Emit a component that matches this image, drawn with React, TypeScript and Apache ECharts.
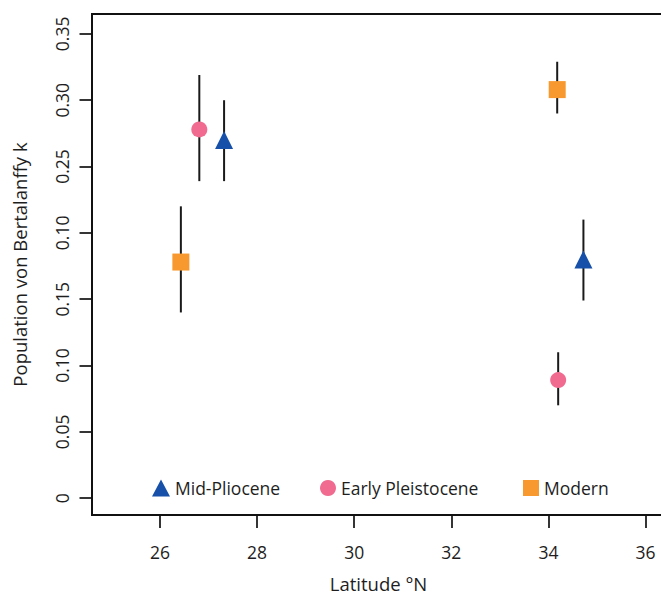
import React, { useEffect, useRef } from "react";
import * as echarts from "echarts";

const seriesNames = ["Mid-Pliocene", "Early Pleistocene", "Modern"];
const seriesColors = ["#1650a8", "#f06b8f", "#f8992f"];
const seriesSymbols = ["triangle", "circle", "rect"];
const seriesSizes = [[18, 18], 16, 17];

const midPliLat = [27.32, 34.72];
const midPliK = [0.27, 0.18];
const midPliLo = [0.239, 0.149];
const midPliHi = [0.3, 0.21];

const earlyPleiLat = [26.81, 34.2];
const earlyPleiK = [0.278, 0.089];
const earlyPleiLo = [0.239, 0.07];
const earlyPleiHi = [0.319, 0.11];

const modernLat = [26.43, 34.18];
const modernK = [0.178, 0.308];
const modernLo = [0.14, 0.29];
const modernHi = [0.22, 0.329];

const xTicks = [26, 28, 30, 32, 34, 36];
const yTicks = [0, 0.05, 0.1, 0.15, 0.2, 0.25, 0.3, 0.35];
const yTickLabels = ["0", "0.05", "0.10", "0.15", "0.10", "0.25", "0.30", "0.35"];

const FONT = "Open Sans";
const TEXT = "#1e1e1e";

export default function App() {
  const ref = useRef<HTMLDivElement>(null);
  useEffect(() => {
    const chart = echarts.init(ref.current!, null, { renderer: "svg" });
    const lats = [midPliLat, earlyPleiLat, modernLat];
    const ks = [midPliK, earlyPleiK, modernK];
    const los = [midPliLo, earlyPleiLo, modernLo];
    const his = [midPliHi, earlyPleiHi, modernHi];

    const errData: number[][] = [];
    lats.forEach((la, s) => la.forEach((x, i) => errData.push([x, los[s][i], his[s][i]])));

    const scatterSeries = seriesNames.map((name, s) => ({
      type: "scatter",
      name,
      symbol: seriesSymbols[s],
      symbolSize: seriesSizes[s],
      itemStyle: { color: seriesColors[s], opacity: 1 },
      z: 3,
      data: lats[s].map((x, i) => [x, ks[s][i]]),
    }));

    const legendLefts = [152, 320, 523];
    const legends = seriesNames.map((name, s) => ({
      data: [{ name, icon: seriesSymbols[s] }],
      left: legendLefts[s],
      top: 479,
      padding: 0,
      itemWidth: s === 0 ? 18 : 16,
      itemHeight: s === 0 ? 17 : 16,
      itemGap: 0,
      textStyle: { fontFamily: FONT, fontSize: 17.5, color: TEXT },
      selectedMode: false,
    }));

    chart.setOption({
      animation: false,
      backgroundColor: "#fff",
      textStyle: { fontFamily: FONT },
      legend: legends,
      grid: {
        left: 92,
        top: 14,
        width: 573,
        height: 506,
        show: true,
        borderColor: "#111",
        borderWidth: 2,
        containLabel: false,
      },
      xAxis: {
        type: "value",
        min: 24.6,
        max: 36.4,
        name: "Latitude °N",
        nameLocation: "middle",
        nameGap: 59,
        nameTextStyle: { fontFamily: FONT, fontSize: 18.5, color: TEXT },
        axisLine: { show: false, onZero: false },
        splitLine: { show: false },
        axisTick: { show: true, length: 13, customValues: xTicks, lineStyle: { color: "#111", width: 1.7 } },
        axisLabel: {
          customValues: xTicks,
          margin: 28,
          fontFamily: FONT,
          fontSize: 17.5,
          color: TEXT,
        },
      },
      yAxis: {
        type: "value",
        min: -0.0127,
        max: 0.365,
        name: "Population von Bertalanffy k",
        nameLocation: "middle",
        nameRotate: 90,
        nameGap: 63,
        nameTextStyle: { fontFamily: FONT, fontSize: 18.5, color: TEXT },
        axisLine: { show: false, onZero: false },
        splitLine: { show: false },
        axisTick: { show: true, length: 12.5, customValues: yTicks, lineStyle: { color: "#111", width: 1.7 } },
        axisLabel: {
          customValues: yTicks,
          rotate: 90,
          margin: 21,
          fontFamily: FONT,
          fontSize: 17.5,
          color: TEXT,
          formatter: (v: number) => {
            const idx = yTicks.findIndex((t) => Math.abs(t - v) < 1e-6);
            return idx >= 0 ? yTickLabels[idx] : "";
          },
        },
      },
      series: [
        {
          type: "custom",
          name: "errorbars",
          z: 1,
          silent: true,
          renderItem: (params: any, api: any) => {
            const x = api.value(0);
            const p1 = api.coord([x, api.value(1)]);
            const p2 = api.coord([x, api.value(2)]);
            return {
              type: "line",
              shape: { x1: p1[0], y1: p1[1], x2: p2[0], y2: p2[1] },
              style: { stroke: "#1a1a1a", lineWidth: 2 },
            };
          },
          data: errData,
        },
        ...scatterSeries,
      ],
    });
    return () => chart.dispose();
  }, []);
  return (
    <div style={{ position: "absolute", left: 0, top: 0, width: 661, height: 598, overflow: "hidden" }}>
      <div ref={ref} style={{ width: 690, height: 598 }} />
    </div>
  );
}
